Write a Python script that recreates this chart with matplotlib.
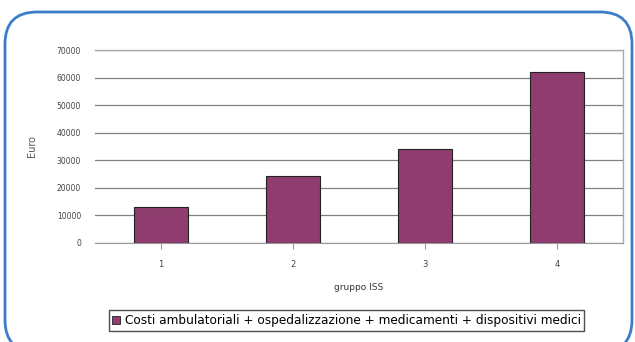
import matplotlib
matplotlib.use("Agg")
import matplotlib.pyplot as plt
from matplotlib.patches import FancyBboxPatch, Patch

# costo medio per gruppo
groups = ["1", "2", "3", "4"]
costs = [13000, 24300, 34000, 62000]
yticks = [0, 10000, 20000, 30000, 40000, 50000, 60000, 70000]
legend_label = "Costi ambulatoriali + ospedalizzazione + medicamenti + dispositivi medici"

bar_color = "#8e3d6e"

fig = plt.figure(figsize=(6.35, 3.42), dpi=100)
ax = fig.add_axes([0.1496, 0.2895, 0.8315, 0.5643])

x = range(len(groups))
ax.bar(x, costs, width=0.41, color=bar_color, edgecolor="#222222", linewidth=0.8, zorder=3)

ax.set_xlim(-0.5, len(groups) - 0.5)
ax.set_ylim(0, 70000)
ax.set_yticks(yticks)
ax.set_yticklabels([str(v) for v in yticks], fontsize=5.5, color="#444444")
ax.set_xticks(list(x))
ax.set_xticklabels(groups, fontsize=6, color="#444444")
ax.tick_params(axis="y", length=0, pad=10)
ax.tick_params(axis="x", length=4, color="#999999", pad=8)

ax.grid(axis="y", color="#808080", linewidth=0.9, zorder=0)
for side in ["top", "right"]:
    ax.spines[side].set_color("#aaaaaa")
    ax.spines[side].set_linewidth(1)
ax.spines["left"].set_visible(False)
ax.spines["bottom"].set_color("#999999")

ax.set_ylabel("Euro", fontsize=7, color="#555555", labelpad=14)
ax.set_xlabel("gruppo ISS", fontsize=6.5, color="#333333", labelpad=10)

handle = Patch(facecolor=bar_color, edgecolor="#222222", linewidth=0.6)
leg = fig.legend([handle], [legend_label], loc="center",
                 bbox_to_anchor=(0.5457, 0.0629), fontsize=8.7, frameon=True,
                 fancybox=False, edgecolor="#222222", handlelength=0.6,
                 handleheight=0.6, handletextpad=0.4, borderpad=0.3)
leg.get_frame().set_linewidth(1.0)

# rounded blue frame around the whole chart
frame = FancyBboxPatch((0.05, -0.10), 6.27, 3.40,
                       boxstyle="round,pad=0,rounding_size=0.32",
                       transform=fig.dpi_scale_trans, facecolor="none",
                       edgecolor="#3d7cc9", linewidth=2, clip_on=False)
fig.patches.append(frame)

fig.savefig("out.png", dpi=100)
